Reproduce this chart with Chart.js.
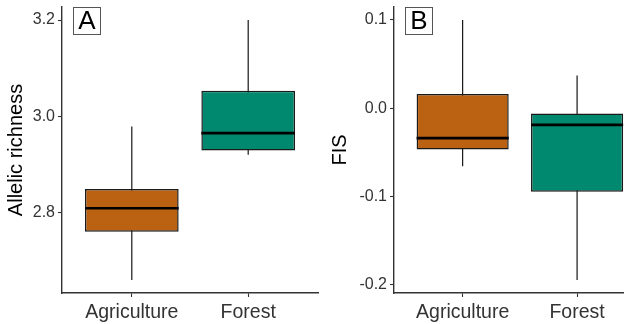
<!DOCTYPE html>
<html>
<head>
<meta charset="utf-8">
<script src="https://cdn.jsdelivr.net/npm/chart.js@4/dist/chart.umd.min.js"></script>
<style>
  html, body { margin: 0; padding: 0; background: #fff; }
  #wrap { position: relative; width: 624px; height: 324px; overflow: hidden; }
  canvas { position: absolute; top: 0; }
</style>
</head>
<body>
<div id="wrap">
  <canvas id="chartA" width="320" height="324" style="left:0"></canvas>
  <canvas id="chartB" width="304" height="324" style="left:320px"></canvas>
</div>
<script>
// groups
const categories = ["Agriculture", "Forest"];
const boxColors = ["#BA6112", "#00896F"];

// panel A: allelic richness (min, q1, median, q3, max)
const arMin = [2.660, 2.920];
const arQ1 = [2.760, 2.929];
const arMedian = [2.809, 2.965];
const arQ3 = [2.849, 3.053];
const arMax = [2.979, 3.200];
const arTicks = [2.8, 3.0, 3.2];

// panel B: FIS
const fisMin = [-0.066, -0.195];
const fisQ1 = [-0.047, -0.095];
const fisMedian = [-0.034, -0.019];
const fisQ3 = [0.016, -0.006];
const fisMax = [0.100, 0.037];
const fisTicks = [-0.2, -0.1, 0.0, 0.1];

const FONT = "'Liberation Sans', Arial, Helvetica, sans-serif";
const AXIS = "#333333";

// whiskers behind the boxes, thick median line on top
const boxPlotLines = {
  id: "boxPlotLines",
  beforeDatasetsDraw(chart) {
    const s = chart.options.plugins.boxPlotLines;
    const y = chart.scales.y;
    const ctx = chart.ctx;
    const meta = chart.getDatasetMeta(0);
    ctx.save();
    ctx.strokeStyle = "#000";
    ctx.lineWidth = 1.1;
    meta.data.forEach((bar, i) => {
      ctx.beginPath();
      ctx.moveTo(bar.x, y.getPixelForValue(s.min[i]));
      ctx.lineTo(bar.x, y.getPixelForValue(s.max[i]));
      ctx.stroke();
    });
    ctx.restore();
  },
  afterDatasetsDraw(chart) {
    const s = chart.options.plugins.boxPlotLines;
    const y = chart.scales.y;
    const ctx = chart.ctx;
    const meta = chart.getDatasetMeta(0);
    ctx.save();
    ctx.strokeStyle = "#000";
    ctx.lineWidth = 2.6;
    meta.data.forEach((bar, i) => {
      const py = y.getPixelForValue(s.median[i]);
      ctx.beginPath();
      ctx.moveTo(bar.x - bar.width / 2, py);
      ctx.lineTo(bar.x + bar.width / 2, py);
      ctx.stroke();
    });
    ctx.restore();
  }
};

// boxed panel letter in the top left corner
const panelTag = {
  id: "panelTag",
  afterDraw(chart) {
    const txt = chart.options.plugins.panelTag.text;
    const a = chart.chartArea;
    const ctx = chart.ctx;
    const x = a.left + 11.5, y = a.top + 0.5, w = 27, h = 27;
    ctx.save();
    ctx.fillStyle = "#fff";
    ctx.fillRect(x, y, w, h);
    ctx.strokeStyle = "#555";
    ctx.lineWidth = 1;
    ctx.strokeRect(x, y, w, h);
    ctx.fillStyle = "#000";
    ctx.font = "26px " + FONT;
    ctx.textAlign = "center";
    ctx.textBaseline = "middle";
    ctx.fillText(txt, x + w / 2, y + h / 2 + 1);
    ctx.restore();
  }
};

function expand(lo, hi) {
  const pad = (hi - lo) * 0.05;
  return [lo - pad, hi + pad];
}

function makeBoxChart(canvas, o) {
  const [yMin, yMax] = expand(Math.min(...o.min), Math.max(...o.max));
  return new Chart(canvas, {
    type: "bar",
    data: {
      datasets: [{
        data: categories.map((c, i) => ({ x: i + 1, y: [o.q1[i], o.q3[i]] })),
        backgroundColor: boxColors,
        borderColor: "#1a1a1a",
        borderWidth: 1.5,
        borderSkipped: false,
        categoryPercentage: 0.805,
        barPercentage: 1
      }]
    },
    options: {
      responsive: false,
      devicePixelRatio: 1,
      animation: false,
      layout: { padding: { top: 7, right: o.padRight, left: 0, bottom: 0 } },
      plugins: {
        legend: { display: false },
        tooltip: { enabled: false },
        boxPlotLines: { min: o.min, median: o.median, max: o.max },
        panelTag: { text: o.tag }
      },
      scales: {
        x: {
          type: "linear",
          min: 0.4,
          max: o.xMax,
          offset: false,
          bounds: "data",
          afterBuildTicks: (s) => { s.ticks = categories.map((c, i) => ({ value: i + 1 })); },
          afterFit: (s) => { s.height = 31; s.paddingLeft = 0; s.paddingRight = 0; },
          ticks: {
            callback: (v) => categories[v - 1],
            color: "#333",
            font: { family: FONT, size: 19.5 },
            padding: 4,
            maxRotation: 0,
            autoSkip: false
          },
          grid: { display: true, offset: false, drawOnChartArea: false, tickLength: 4, color: AXIS, tickWidth: 1.1 },
          border: { display: true, color: AXIS, width: 1.4 }
        },
        y: {
          min: yMin,
          max: yMax,
          afterBuildTicks: (s) => { s.ticks = o.ticks.map((v) => ({ value: v })); },
          afterFit: (s) => { s.width = o.yWidth; s.paddingTop = 0; s.paddingBottom = 0; },
          ticks: {
            callback: (v) => v.toFixed(1),
            color: "#333",
            font: { family: FONT, size: 16 },
            padding: 3
          },
          title: {
            display: true,
            text: o.title,
            color: "#000",
            font: { family: FONT, size: 20 },
            padding: { top: o.titlePad, bottom: 0 }
          },
          grid: { display: true, drawOnChartArea: false, tickLength: 4, color: AXIS, tickWidth: 1.1 },
          border: { display: true, color: AXIS, width: 1.4 }
        }
      }
    },
    plugins: [boxPlotLines, panelTag]
  });
}

makeBoxChart(document.getElementById("chartA"), {
  min: arMin, q1: arQ1, median: arMedian, q3: arQ3, max: arMax,
  ticks: arTicks, title: "Allelic richness", tag: "A",
  yWidth: 62, titlePad: 4, padRight: 2, xMax: 2.6
});

makeBoxChart(document.getElementById("chartB"), {
  min: fisMin, q1: fisQ1, median: fisMedian, q3: fisQ3, max: fisMax,
  ticks: fisTicks, title: "FIS", tag: "B",
  yWidth: 74, titlePad: 8.5, padRight: 0, xMax: 2.41
});
</script>
</body>
</html>
